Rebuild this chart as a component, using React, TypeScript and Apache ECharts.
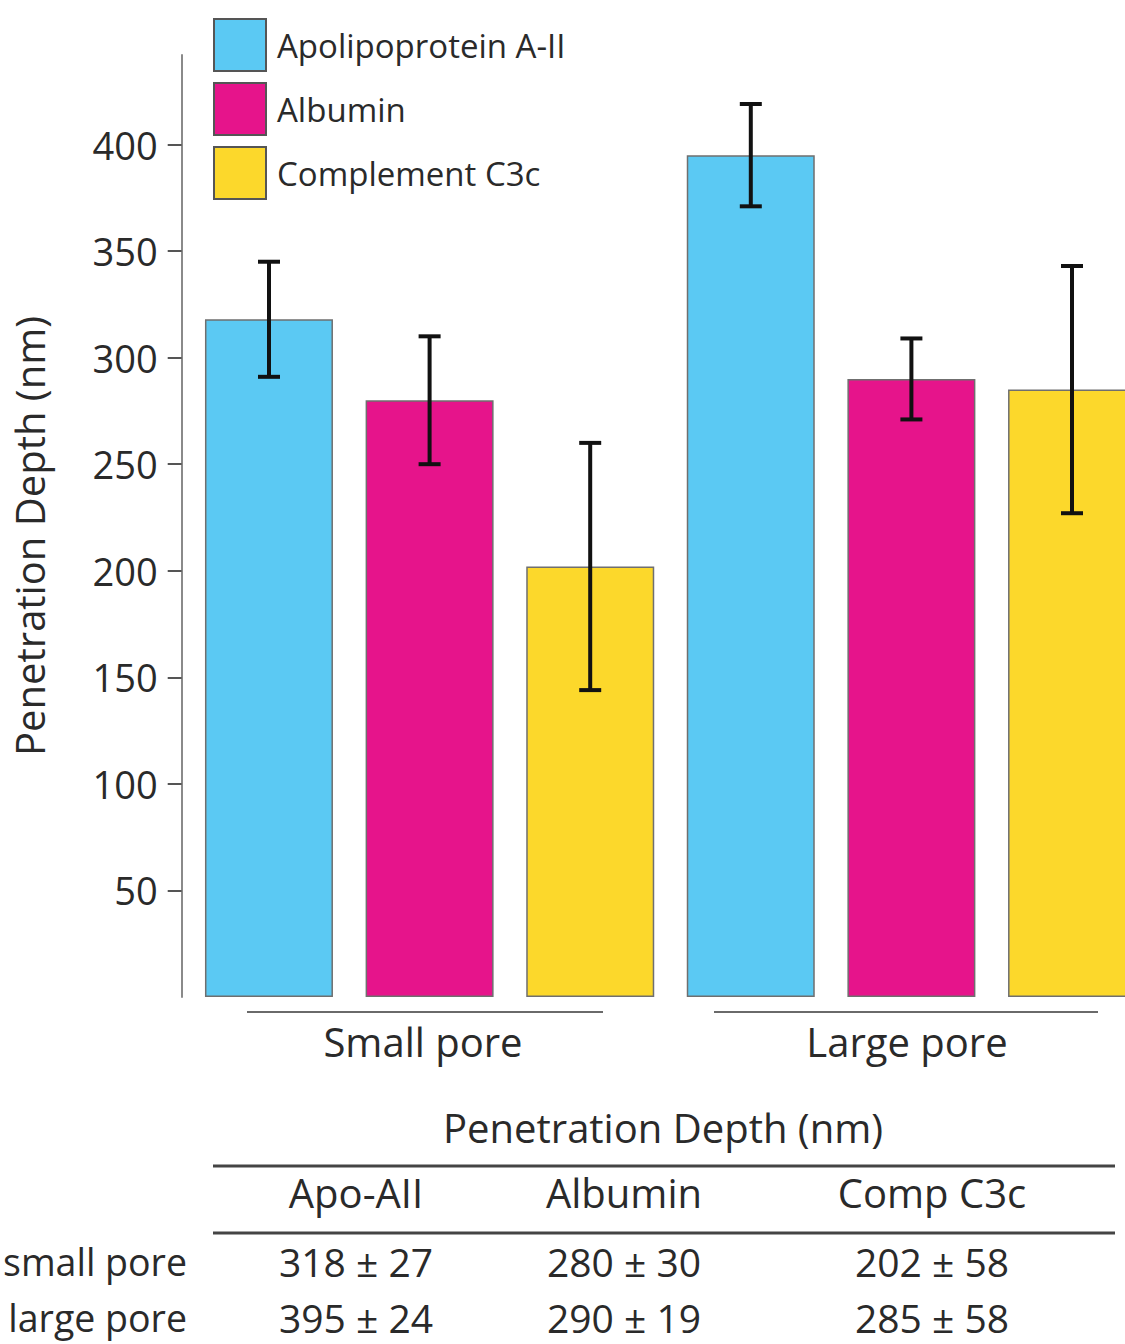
import React, { useEffect, useRef } from "react";
import * as echarts from "echarts";

const categories = ["Small pore", "Large pore"];
const seriesNames = ["Apolipoprotein A-II", "Albumin", "Complement C3c"];
const shortNames = ["Apo-AII", "Albumin", "Comp C3c"];
const apoMeans = [318, 395];
const apoErrs = [27, 24];
const albMeans = [280, 290];
const albErrs = [30, 19];
const c3cMeans = [202, 285];
const c3cErrs = [58, 58];
const yTicks = [50, 100, 150, 200, 250, 300, 350, 400];
const rowLabels = ["small pore", "large pore"];
const yTitle = "Penetration Depth (nm)";
const tableTitle = "Penetration Depth (nm)";
const colors = ["#5BC9F3", "#E6148B", "#FCD82B"];

const FONT = "Open Sans";
const TXT = "#2a2a2a";
const CHART_W = 1160;

export default function App() {
  const ref = useRef<HTMLDivElement>(null);
  useEffect(() => {
    document.body.style.margin = "0";
    if (!ref.current) return;
    const chart = echarts.init(ref.current, null, { renderer: "svg" });
    const means = [apoMeans, albMeans, c3cMeans];
    const errs = [apoErrs, albErrs, c3cErrs];

    const barSeries = seriesNames.map((name, i) => ({
      name,
      type: "bar",
      data: means[i],
      barWidth: 128,
      barGap: "25.5%",
      itemStyle: { color: colors[i], borderColor: "#6f6f6f", borderWidth: 1.5 },
      z: 2,
    }));

    const errSeries = seriesNames.map((name, i) => ({
      name: name + " err",
      type: "custom",
      encode: { x: 0, y: 1 },
      z: 5,
      silent: true,
      data: means[i].map((m, k) => [k, m, errs[i][k]]),
      renderItem: (params: any, api: any) => {
        const cat = api.value(0);
        const v = api.value(1);
        const e = api.value(2);
        const band = api.size([1, 0])[0];
        const cx = api.coord([cat, v])[0] + ((i - 1) * band) / 3;
        const yTop = api.coord([cat, v + e])[1];
        const yBot = api.coord([cat, v - e])[1];
        const st = { stroke: "#111", lineWidth: 4 };
        const hw = 11;
        return {
          type: "group",
          children: [
            { type: "line", shape: { x1: cx, y1: yTop, x2: cx, y2: yBot }, style: st },
            { type: "line", shape: { x1: cx - hw, y1: yTop, x2: cx + hw, y2: yTop }, style: st },
            { type: "line", shape: { x1: cx - hw, y1: yBot, x2: cx + hw, y2: yBot }, style: st },
          ],
        };
      },
    }));

    const tText = (text: string, x: number, y: number, align = "center", size = 40) => ({
      type: "text",
      x,
      y,
      style: {
        text,
        x: 0,
        y: 0,
        fill: TXT,
        font: `${size}px "${FONT}"`,
        align,
        verticalAlign: "middle",
      },
    });

    const colX = [356, 624, 932];
    const rowY = [1261, 1317];
    const graphics: any[] = [
      { type: "line", shape: { x1: 247, y1: 1012, x2: 603, y2: 1012 }, style: { stroke: "#6a6a6a", lineWidth: 2 } },
      { type: "line", shape: { x1: 714, y1: 1012, x2: 1098, y2: 1012 }, style: { stroke: "#6a6a6a", lineWidth: 2 } },
      tText(categories[0], 423, 1041),
      tText(categories[1], 907, 1041),
      tText(tableTitle, 663, 1127),
      { type: "line", shape: { x1: 213, y1: 1166, x2: 1115, y2: 1166 }, style: { stroke: "#444", lineWidth: 3 } },
      { type: "line", shape: { x1: 213, y1: 1233, x2: 1115, y2: 1233 }, style: { stroke: "#444", lineWidth: 3 } },
    ];
    shortNames.forEach((n, i) => graphics.push(tText(n, colX[i], 1192)));
    rowLabels.forEach((r, k) => {
      graphics.push(tText(r, 187, rowY[k], "right", 37.5));
      means.forEach((m, i) => {
        graphics.push(tText(`${m[k]} ± ${errs[i][k]}`, colX[i], rowY[k], "center", 39));
      });
    });

    chart.setOption({
      animation: false,
      backgroundColor: "#ffffff",
      textStyle: { fontFamily: FONT },
      legend: {
        data: seriesNames,
        orient: "vertical",
        left: 213,
        top: 18,
        padding: 0,
        itemWidth: 52,
        itemHeight: 52,
        itemGap: 10,
        icon: "rect",
        itemStyle: { borderColor: "#555", borderWidth: 2 },
        textStyle: { fontSize: 33, color: TXT, fontFamily: FONT, padding: [0, 0, 0, 6] },
      },
      grid: { left: 188.7, right: CHART_W - 1152.3, top: 55, bottom: 347 },
      xAxis: {
        type: "category",
        data: categories,
        axisLine: { show: false },
        axisTick: { show: false },
        axisLabel: { show: false },
      },
      yAxis: {
        type: "value",
        min: 0,
        max: 442,
        offset: 7,
        name: yTitle,
        nameLocation: "middle",
        nameGap: 132,
        nameTextStyle: { fontSize: 40, color: TXT, fontFamily: FONT, padding: [0, 20, 0, 0] },
        axisLine: { show: true, lineStyle: { color: "#8a8a8a", width: 2 } },
        axisTick: { show: true, length: 14, customValues: yTicks, lineStyle: { color: "#555", width: 2 } },
        axisLabel: {
          customValues: yTicks,
          margin: 24,
          fontSize: 38,
          color: TXT,
          fontFamily: FONT,
          formatter: (v: number) => (yTicks.includes(v) ? String(v) : ""),
        },
        splitLine: { show: false },
      },
      series: [...barSeries, ...errSeries],
      graphic: graphics,
    });
    return () => chart.dispose();
  }, []);
  return (
    <div style={{ width: 1125, height: 1344, overflow: "hidden" }}>
      <div ref={ref} style={{ width: CHART_W, height: 1344 }} />
    </div>
  );
}
